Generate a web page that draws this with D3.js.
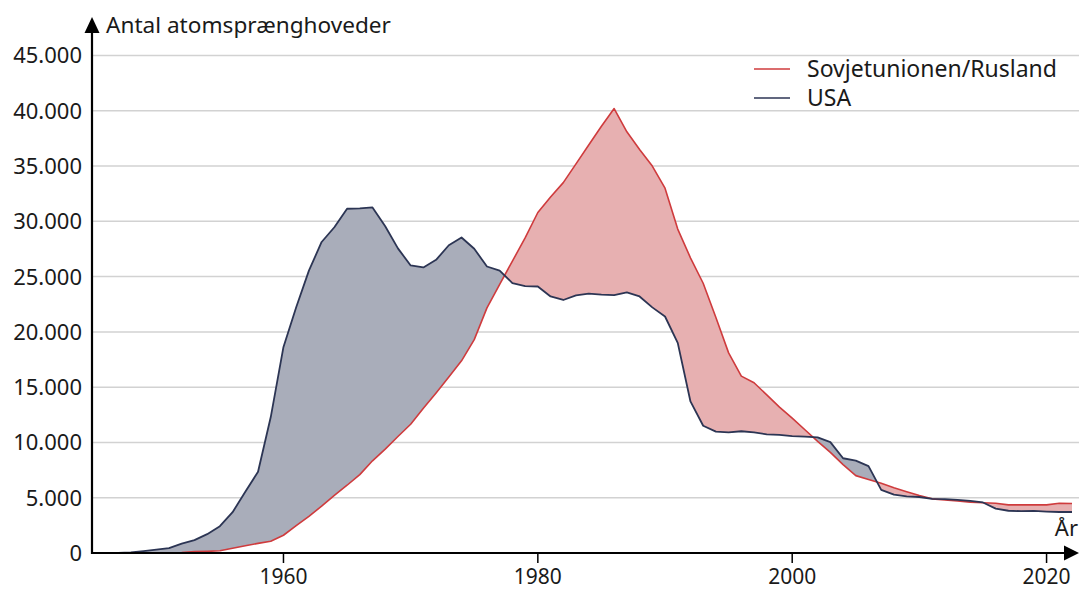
<!DOCTYPE html>
<meta charset="utf-8">
<script src="https://d3js.org/d3.v7.min.js"></script>
<style>
  body { margin: 0; background: #fff; }
  text { font-family: "Noto Sans", sans-serif; fill: #1a1a1a; }
</style>
<div id="chart"></div>
<script>

// years shown on the x axis
var years = d3.range(1945, 2023);

// warheads, USA (1945 - 2022)
var usa = [2, 9, 13, 50, 170, 299, 438, 841, 1169, 1703,
  2422, 3692, 5543, 7345, 12298, 18638, 22229, 25540, 28133, 29463,
  31139, 31175, 31255, 29561, 27552, 26008, 25830, 26516, 27835, 28537,
  27519, 25914, 25542, 24418, 24138, 24104, 23208, 22886, 23305, 23459,
  23368, 23317, 23575, 23205, 22217, 21392, 19008, 13708, 11511, 10979,
  10904, 11011, 10903, 10732, 10685, 10577, 10526, 10457, 10027, 8570,
  8360, 7853, 5709, 5273, 5113, 5066, 4897, 4881, 4804, 4717,
  4571, 4018, 3822, 3785, 3805, 3750, 3708, 3708];

// warheads, Soviet Union / Russia (1945 - 2022)
var sov = [0, 0, 0, 0, 1, 5, 25, 50, 120, 150,
  200, 426, 660, 869, 1060, 1605, 2471, 3322, 4238, 5221,
  6129, 7089, 8339, 9399, 10538, 11643, 13092, 14478, 15915, 17385,
  19300, 22170, 24300, 26400, 28500, 30800, 32200, 33500, 35200, 36900,
  38600, 40200, 38100, 36500, 35000, 33000, 29300, 26700, 24400, 21300,
  18100, 16000, 15400, 14300, 13200, 12200, 11150, 10100, 9100, 8000,
  7000, 6650, 6300, 5900, 5550, 5200, 4900, 4800, 4700, 4600,
  4550, 4500, 4350, 4350, 4350, 4350, 4500, 4480];

var yTicks = [0, 5000, 10000, 15000, 20000, 25000, 30000, 35000, 40000, 45000];
var xTicks = [1960, 1980, 2000, 2020];

var series = [
  {name: "Sovjetunionen/Rusland", color: "#cf3b3d"},
  {name: "USA", color: "#2c3554"}
];

var data = years.map(function(yr, i) { return {year: yr, usa: usa[i], sov: sov[i]}; });

var W = 1081, H = 590;

var svg = d3.select("#chart")
  .append("svg")
    .attr("width", W)
    .attr("height", H);

var x = d3.scaleLinear()
  .domain([1945, 2022])
  .range([92.7, 1072]);

var y = d3.scaleLinear()
  .domain([0, 45000])
  .range([553, 55.5]);

var fmt = function(v) { return v === 0 ? "0" : d3.format(",")(v).replace(/,/g, "."); };

// gridlines
svg.append("g")
  .selectAll("line")
  .data(yTicks.slice(1))
  .enter().append("line")
    .attr("x1", 93)
    .attr("x2", 1079)
    .attr("y1", function(d) { return y(d); })
    .attr("y2", function(d) { return y(d); })
    .attr("stroke", "#d2d2d2")
    .attr("stroke-width", 1.5);

// y tick labels
svg.append("g")
  .selectAll("text")
  .data(yTicks)
  .enter().append("text")
    .attr("x", 82)
    .attr("y", function(d) { return y(d); })
    .attr("dy", "0.36em")
    .attr("text-anchor", "end")
    .style("font-size", "22px")
    .text(fmt);

// clip paths for the difference fill
var defs = svg.append("defs");
defs.append("clipPath").attr("id", "above-usa")
  .append("path")
    .attr("d", d3.area()
      .x(function(d) { return x(d.year); })
      .y0(0)
      .y1(function(d) { return y(d.usa); })(data));
defs.append("clipPath").attr("id", "above-sov")
  .append("path")
    .attr("d", d3.area()
      .x(function(d) { return x(d.year); })
      .y0(0)
      .y1(function(d) { return y(d.sov); })(data));

var band = d3.area()
  .x(function(d) { return x(d.year); })
  .y0(function(d) { return y(d.usa); })
  .y1(function(d) { return y(d.sov); });

svg.append("path")
  .datum(data)
  .attr("clip-path", "url(#above-usa)")
  .attr("fill", "#e7b0b1")
  .attr("d", band);

svg.append("path")
  .datum(data)
  .attr("clip-path", "url(#above-sov)")
  .attr("fill", "#a9adba")
  .attr("d", band);

// lines
svg.append("path")
  .datum(data)
  .attr("fill", "none")
  .attr("stroke", series[0].color)
  .attr("stroke-width", 1.6)
  .attr("stroke-linejoin", "round")
  .attr("d", d3.line().x(function(d) { return x(d.year); }).y(function(d) { return y(d.sov); }));

svg.append("path")
  .datum(data)
  .attr("fill", "none")
  .attr("stroke", series[1].color)
  .attr("stroke-width", 1.8)
  .attr("stroke-linejoin", "round")
  .attr("d", d3.line().x(function(d) { return x(d.year); }).y(function(d) { return y(d.usa); }));

// x axis
svg.append("line")
  .attr("x1", 91).attr("x2", 1066)
  .attr("y1", 553).attr("y2", 553)
  .attr("stroke", "#000").attr("stroke-width", 2.2);
svg.append("path")
  .attr("d", "M1064,545.5 L1079,553 L1064,560.5 Z")
  .attr("fill", "#000");

var xg = svg.append("g");
xg.selectAll("line")
  .data(xTicks)
  .enter().append("line")
    .attr("x1", function(d) { return x(d); })
    .attr("x2", function(d) { return x(d); })
    .attr("y1", 553).attr("y2", 563)
    .attr("stroke", "#000").attr("stroke-width", 1.5);
xg.selectAll("text")
  .data(xTicks)
  .enter().append("text")
    .attr("x", function(d) { return x(d); })
    .attr("y", 584)
    .attr("text-anchor", "middle")
    .style("font-size", "21px")
    .text(function(d) { return d; });

svg.append("text")
  .attr("x", 1078).attr("y", 536)
  .attr("text-anchor", "end")
  .style("font-size", "22px")
  .text("År");

// y axis
svg.append("line")
  .attr("x1", 92).attr("x2", 92)
  .attr("y1", 554).attr("y2", 30)
  .attr("stroke", "#000").attr("stroke-width", 2.2);
svg.append("path")
  .attr("d", "M84.5,33 L92,17 L99.5,33 Z")
  .attr("fill", "#000");
svg.append("text")
  .attr("x", 106).attr("y", 33)
  .style("font-size", "22.6px")
  .text("Antal atomsprænghoveder");

// legend
var lg = svg.append("g")
  .selectAll("g")
  .data(series)
  .enter().append("g")
    .attr("transform", function(d, i) { return "translate(754," + (69 + i * 29) + ")"; });
lg.append("line")
  .attr("x1", 0).attr("x2", 36)
  .attr("stroke", function(d) { return d.color; })
  .attr("stroke-width", 1.6);
lg.append("text")
  .attr("x", 53)
  .attr("dy", "0.36em")
  .style("font-size", "23px")
  .text(function(d) { return d.name; });

</script>
